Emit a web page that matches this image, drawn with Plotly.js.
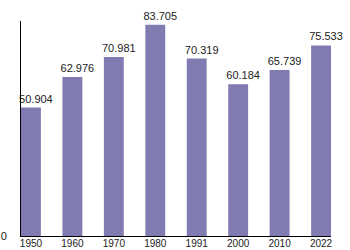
<!DOCTYPE html>
<html>
<head>
<meta charset="utf-8">
<script src="https://cdn.plot.ly/plotly-3.0.1.min.js"></script>
<style>html,body{margin:0;padding:0;background:#fff;}#chart{width:350px;height:250px;}</style>
</head>
<body>
<div id="chart"></div>
<script>
const years = ['1950', '1960', '1970', '1980', '1991', '2000', '2010', '2022'];
const population = [50.904, 62.976, 70.981, 83.705, 70.319, 60.184, 65.739, 75.533];
const labels = ['50.904', '62.976', '70.981', '83.705', '70.319', '60.184', '65.739', '75.533'];

const bars = {
  type: 'bar',
  x: years,
  y: population,
  marker: {color: 'rgb(128,124,178)'},
  hoverinfo: 'none'
};

const valueText = {
  type: 'scatter',
  mode: 'markers+text',
  x: years,
  y: population,
  xaxis: 'x2',
  text: labels,
  textposition: 'top center',
  cliponaxis: false,
  marker: {size: 2, opacity: 0},
  textfont: {family: 'Liberation Sans, Arial, sans-serif', size: 11, color: '#222'},
  hoverinfo: 'none'
};

const layout = {
  width: 350, height: 250,
  margin: {l: 21, r: 19, t: 21, b: 14, pad: 0},
  paper_bgcolor: '#fff', plot_bgcolor: '#fff',
  bargap: 0.52,
  showlegend: false,
  font: {family: 'Liberation Sans, Arial, sans-serif', size: 10, color: '#222'},
  xaxis: {
    type: 'category',
    range: [-0.24, 7.24],
    showline: true, linecolor: '#000', linewidth: 1,
    ticks: '', showgrid: false, zeroline: false,
    ticklabelstandoff: -2,
    tickfont: {size: 10, color: '#222'}
  },
  xaxis2: {
    type: 'category',
    overlaying: 'x',
    range: [-0.36, 7.12],
    visible: false
  },
  yaxis: {
    range: [0, 85.2],
    showline: true, linecolor: '#000', linewidth: 1,
    ticks: '', showgrid: false, zeroline: false,
    tickmode: 'array', tickvals: [0], ticktext: ['0'],
    ticklabelstandoff: 11,
    tickfont: {size: 11, color: '#222'}
  }
};

Plotly.newPlot('chart', [bars, valueText], layout, {staticPlot: true, displayModeBar: false});
</script>
</body>
</html>
